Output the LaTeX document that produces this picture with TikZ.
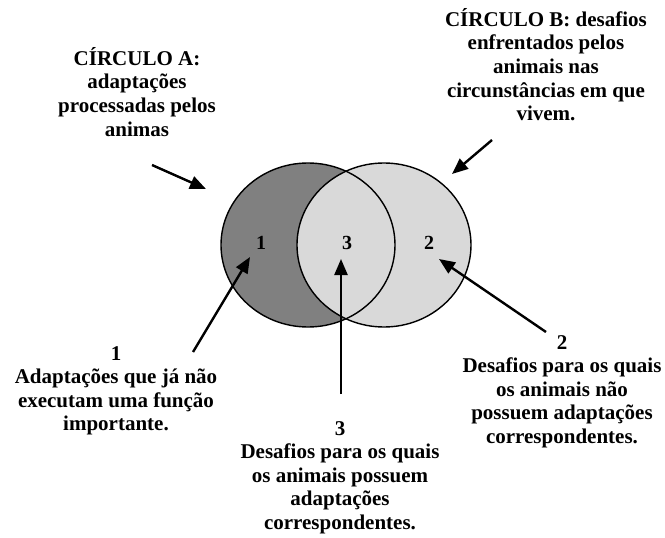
\documentclass[tikz,border=0pt]{standalone}
\usepackage{fontspec}
\setmainfont{Liberation Serif}
\usetikzlibrary{arrows.meta}
\begin{document}
\begin{tikzpicture}[x=1pt,y=-1pt,
  lbl/.style={align=center,inner sep=0pt,anchor=north,font=\fontsize{21}{23.6}\selectfont\bfseries},
  num/.style={inner sep=0pt,font=\fontsize{20}{22}\selectfont\bfseries},
  ptr/.style={line width=2.4pt,-{Triangle[length=16pt,width=13pt]}},
  ring/.style={line width=1.4pt}]
\useasboundingbox (0,0) rectangle (665,538);
% circles
\fill[fill={rgb,255:red,128;green,128;blue,128}] (308,245) ellipse [x radius=87,y radius=82];
\fill[fill={rgb,255:red,217;green,217;blue,217}] (384,245) ellipse [x radius=87,y radius=82];
\draw[ring] (308,245) ellipse [x radius=87,y radius=82];
\draw[ring] (384,245) ellipse [x radius=87,y radius=82];
% numbers in circles
\node[num] (n1) at (261,243) {1};
\node[num] (n3) at (347,243) {3};
\node[num] (n2) at (429,243) {2};
% labels
\node[lbl] (la) at (137,47) {CÍRCULO A:\\adaptações\\processadas pelos\\animas};
\node[lbl] (lb) at (546,8) {CÍRCULO B: desafios\\enfrentados pelos\\animais nas\\circunstâncias em que\\vivem.};
\node[lbl] (l1) at (116,346) {1\\Adaptações que já não\\executam uma função\\importante.};
\node[lbl] (l3) at (340,421) {3\\Desafios para os quais\\os animais possuem\\adaptações\\correspondentes.};
\node[lbl] (l2) at (562,335) {2\\Desafios para os quais\\os animais não\\possuem adaptações\\correspondentes.};
% arrow endpoints
\coordinate (a1s) at (152,165); \coordinate (a1e) at (206,189);
\coordinate (a2s) at (492,140); \coordinate (a2e) at (452,174);
\coordinate (a3s) at (193,352); \coordinate (a3e) at (250,257);
\coordinate (a4s) at (341,394); \coordinate (a4e) at (341,259);
\coordinate (a5s) at (546,332); \coordinate (a5e) at (439,259);
\draw[ptr] (a1s) -- (a1e);
\draw[ptr] (a2s) -- (a2e);
\draw[ptr] (a3s) -- (a3e);
\draw[ptr] (a4s) -- (a4e);
\draw[ptr] (a5s) -- (a5e);
\end{tikzpicture}
\end{document}
